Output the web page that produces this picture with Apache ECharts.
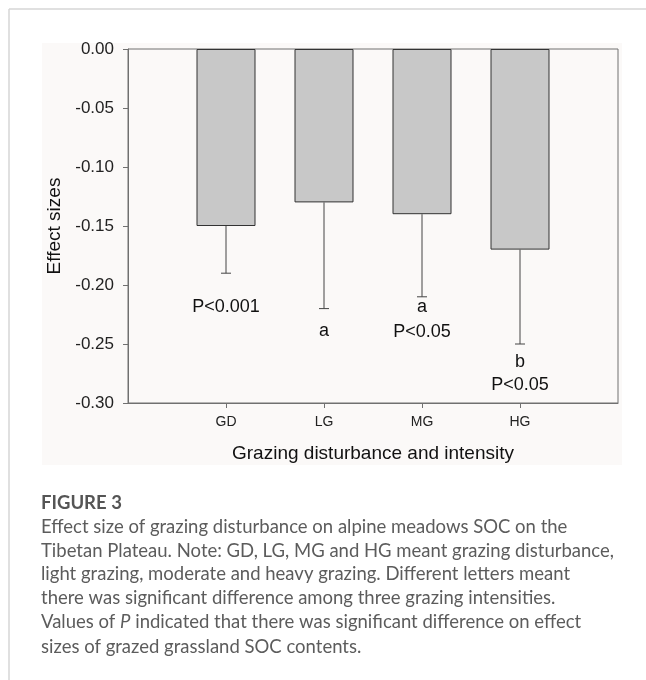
<!DOCTYPE html>
<html>
<head>
<meta charset="utf-8">
<script src="https://cdn.jsdelivr.net/npm/echarts@6/dist/echarts.min.js"></script>
<style>
  html, body { margin: 0; padding: 0; background: #fff; }
  #chart { width: 646px; height: 680px; }
</style>
</head>
<body>
<div id="chart"></div>
<script>
// data
var categories = ['GD', 'LG', 'MG', 'HG'];
var effectSizes = [-0.15, -0.13, -0.14, -0.17];
var errorLows = [-0.19, -0.22, -0.21, -0.25];

// letters / P values written under the bars
var noteCats = ['GD', 'LG', 'MG', 'MG', 'HG', 'HG'];
var noteValues = [-0.219, -0.239, -0.219, -0.240, -0.265, -0.285];
var noteTexts = ['P<0.001', 'a', 'a', 'P<0.05', 'b', 'P<0.05'];

var captionTitle = 'FIGURE 3';
var captionLines = [
    'Effect size of grazing disturbance on alpine meadows SOC on the',
    'Tibetan Plateau. Note: GD, LG, MG and HG meant grazing disturbance,',
    'light grazing, moderate and heavy grazing. Different letters meant',
    'there was significant difference among three grazing intensities.',
    'Values of {i|P} indicated that there was significant difference on effect',
    'sizes of grazed grassland SOC contents.'
];

var chartDom = document.getElementById('chart');
var myChart = echarts.init(chartDom);

// empty slot on each side, so the 4 groups sit at 1/5 .. 4/5 of the width
var axisCats = [''].concat(categories, ['']);
var barData = ['-'].concat(effectSizes, ['-']);

var errData = [];
for (var i = 0; i < categories.length; i++) {
    errData.push([i + 1, effectSizes[i], errorLows[i]]);
}
var noteData = [];
for (var j = 0; j < noteTexts.length; j++) {
    noteData.push([categories.indexOf(noteCats[j]) + 1, noteValues[j], noteTexts[j]]);
}

var graphics = [
    { type: 'rect', z: -10, silent: true, shape: { x: 42, y: 43, width: 580, height: 422 }, style: { fill: '#fbf9f8' } },
    { type: 'line', shape: { x1: 9, y1: 9, x2: 646, y2: 9 }, style: { stroke: '#d6d6d6', lineWidth: 1.5 } },
    { type: 'line', shape: { x1: 9, y1: 9, x2: 9, y2: 680 }, style: { stroke: '#d6d6d6', lineWidth: 1.5 } },
    { type: 'text', x: 41, y: 503, style: { text: captionTitle, font: 'bold 18.5px Lato', fill: '#555', textVerticalAlign: 'middle' } }
];
var lineY = [527, 551, 574, 598, 622, 647];
for (var k = 0; k < captionLines.length; k++) {
    graphics.push({
        type: 'text', x: 41, y: lineY[k],
        style: {
            text: captionLines[k], font: '18.5px Lato', fill: '#5c5c5c', textVerticalAlign: 'middle',
            rich: { i: { fontStyle: 'italic', fontFamily: 'Lato', fontSize: 18.5, fill: '#5c5c5c' } }
        }
    });
}

var option = {
    animation: false,
    backgroundColor: '#fff',
    graphic: graphics,
    grid: { left: 128, right: 28, top: 49, bottom: 277, show: true, borderColor: '#707070', borderWidth: 1, backgroundColor: 'transparent' },
    xAxis: {
        type: 'category',
        data: axisCats,
        boundaryGap: false,
        name: 'Grazing disturbance and intensity',
        nameLocation: 'middle',
        nameGap: 41,
        nameTextStyle: { fontFamily: 'Liberation Sans', fontSize: 19, color: '#111' },
        axisLine: { onZero: false, lineStyle: { color: '#707070' } },
        axisTick: { length: 5, interval: function (idx, val) { return val !== ''; }, lineStyle: { color: '#707070' } },
        axisLabel: { interval: 0, margin: 12, fontFamily: 'Liberation Sans', fontSize: 14, color: '#222' },
        splitLine: { show: false }
    },
    yAxis: {
        type: 'value',
        min: -0.3,
        max: 0,
        interval: 0.05,
        name: 'Effect sizes',
        nameLocation: 'middle',
        nameGap: 56,
        nameTextStyle: { fontFamily: 'Liberation Sans', fontSize: 19, color: '#111' },
        axisLine: { show: true, lineStyle: { color: '#707070' } },
        axisTick: { show: true, length: 5, lineStyle: { color: '#707070' } },
        axisLabel: { margin: 14, fontFamily: 'Liberation Sans', fontSize: 17, color: '#222', formatter: function (v) { return v.toFixed(2); } },
        splitLine: { show: false }
    },
    series: [
        {
            type: 'bar',
            data: barData,
            barWidth: 59,
            itemStyle: { color: '#c8c8c8', borderColor: '#333', borderWidth: 1 }
        },
        {
            type: 'custom',
            data: errData,
            z: 3,
            renderItem: function (params, api) {
                var p0 = api.coord([api.value(0), api.value(1)]);
                var p1 = api.coord([api.value(0), api.value(2)]);
                var st = { stroke: '#444', lineWidth: 1 };
                return {
                    type: 'group',
                    children: [
                        { type: 'line', shape: { x1: p0[0], y1: p0[1], x2: p1[0], y2: p1[1] }, style: st },
                        { type: 'line', shape: { x1: p1[0] - 5, y1: p1[1], x2: p1[0] + 5, y2: p1[1] }, style: st }
                    ]
                };
            }
        },
        {
            type: 'custom',
            data: noteData,
            z: 4,
            renderItem: function (params, api) {
                var p = api.coord([api.value(0), api.value(1)]);
                return {
                    type: 'text',
                    x: p[0], y: p[1],
                    style: {
                        text: noteTexts[params.dataIndex],
                        font: '18px "Liberation Sans"',
                        fill: '#111',
                        textAlign: 'center',
                        textVerticalAlign: 'middle'
                    }
                };
            }
        }
    ]
};

option && myChart.setOption(option);
</script>
</body>
</html>
